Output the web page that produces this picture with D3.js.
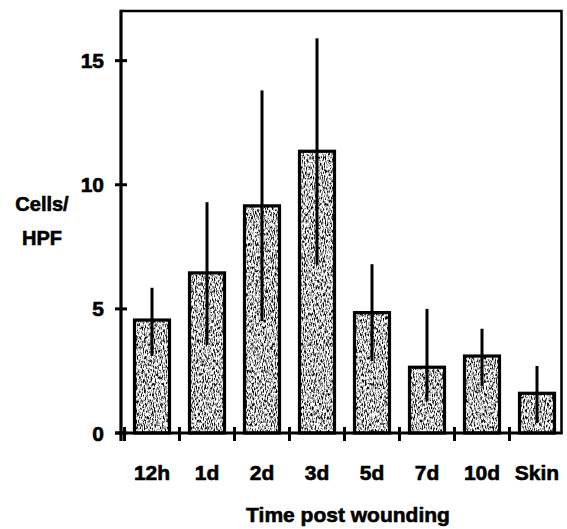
<!DOCTYPE html>
<html>
<head>
<meta charset="utf-8">
<script src="https://cdn.jsdelivr.net/npm/d3@7"></script>
<style>
	body { margin: 0; background: #fff; }
	text { font-family: "Liberation Sans", Arial, sans-serif; font-weight: bold; fill: #000; stroke: #000; stroke-width: 0.6px; }
</style>
</head>
<body>
<svg id="chart"></svg>
<script>
'use strict';

// values (cells per high power field)
var categories = ['12h', '1d', '2d', '3d', '5d', '7d', '10d', 'Skin'];
var means = [4.55, 6.45, 9.15, 11.35, 4.85, 2.65, 3.1, 1.6];
var errHigh = [5.85, 9.3, 13.8, 15.9, 6.8, 5.0, 4.2, 2.7];
var errLow = [3.1, 3.55, 4.5, 6.8, 2.9, 1.3, 1.9, 0.4];
var yTicks = [0, 5, 10, 15];

var WIDTH = 567,
	HEIGHT = 529;

var AXIS_LEFT = 121,
	FRAME_RIGHT = 561.5,
	FRAME_TOP = 11,
	AXIS_BOTTOM = 433;

var svg = d3.select('#chart')
	.attr('width', WIDTH)
	.attr('height', HEIGHT);

// grainy stipple used for the bar fill
var defs = svg.append('defs');
var grain = defs.append('filter')
	.attr('id', 'grain')
	.attr('x', 0).attr('y', 0)
	.attr('width', 1).attr('height', 1);

grain.append('feTurbulence')
	.attr('type', 'fractalNoise')
	.attr('baseFrequency', '0.9 0.3')
	.attr('numOctaves', 3)
	.attr('seed', 7)
	.attr('result', 'noise');

grain.append('feColorMatrix')
	.attr('in', 'noise')
	.attr('type', 'matrix')
	.attr('values', '0 0 0 0 0  0 0 0 0 0  0 0 0 0 0  -3.4 0 0 0 1.95')
	.attr('result', 'alpha');

grain.append('feComposite')
	.attr('in', 'SourceGraphic')
	.attr('in2', 'alpha')
	.attr('operator', 'in');

var x = d3.scaleBand()
	.domain(categories)
	.range([124.5, 564.5])
	.paddingInner(20 / 55)
	.paddingOuter(10 / 55);

var y = d3.scaleLinear()
	.domain([0, 17])
	.range([AXIS_BOTTOM, FRAME_TOP]);

var gap = x.step() - x.bandwidth();

// bars
var bars = svg.selectAll('.bar')
	.data(categories)
	.enter()
	.append('g')
	.classed('bar', true);

bars.append('rect')
	.attr('x', function (d) { return x(d); })
	.attr('y', function (d, i) { return y(means[i]); })
	.attr('width', x.bandwidth())
	.attr('height', function (d, i) { return y(0) - y(means[i]); })
	.style('fill', '#000')
	.attr('filter', 'url(#grain)');

bars.append('rect')
	.attr('x', function (d) { return x(d); })
	.attr('y', function (d, i) { return y(means[i]); })
	.attr('width', x.bandwidth())
	.attr('height', function (d, i) { return y(0) - y(means[i]); })
	.style('fill', 'none')
	.style('stroke', '#000')
	.style('stroke-width', 3.2);

// error bars
bars.append('line')
	.attr('x1', function (d) { return x(d) + x.bandwidth() / 2; })
	.attr('x2', function (d) { return x(d) + x.bandwidth() / 2; })
	.attr('y1', function (d, i) { return y(errLow[i]); })
	.attr('y2', function (d, i) { return y(errHigh[i]); })
	.style('stroke', '#000')
	.style('stroke-width', 3);

// frame: top and right
svg.append('path')
	.attr('d', 'M' + AXIS_LEFT + ',' + FRAME_TOP + 'H' + FRAME_RIGHT + 'V' + AXIS_BOTTOM)
	.style('fill', 'none')
	.style('stroke', '#000')
	.style('stroke-width', 2.5);

// y axis
svg.append('line')
	.attr('x1', AXIS_LEFT).attr('x2', AXIS_LEFT)
	.attr('y1', FRAME_TOP - 1.2).attr('y2', AXIS_BOTTOM + 8)
	.style('stroke', '#000')
	.style('stroke-width', 3.2);

svg.selectAll('.y-tick')
	.data(yTicks)
	.enter()
	.append('line')
	.classed('y-tick', true)
	.attr('x1', AXIS_LEFT - 6)
	.attr('x2', AXIS_LEFT + 6)
	.attr('y1', function (d) { return y(d); })
	.attr('y2', function (d) { return y(d); })
	.style('stroke', '#000')
	.style('stroke-width', 3);

svg.selectAll('.y-label')
	.data(yTicks)
	.enter()
	.append('text')
	.classed('y-label', true)
	.attr('x', 104)
	.attr('y', function (d) { return y(d); })
	.attr('dy', '0.36em')
	.style('text-anchor', 'end')
	.style('font-size', '21px')
	.text(function (d) { return d; });

// x axis
svg.append('line')
	.attr('x1', AXIS_LEFT - 6).attr('x2', FRAME_RIGHT + 1.2)
	.attr('y1', AXIS_BOTTOM).attr('y2', AXIS_BOTTOM)
	.style('stroke', '#000')
	.style('stroke-width', 3.2);

svg.selectAll('.x-tick')
	.data(categories)
	.enter()
	.append('line')
	.classed('x-tick', true)
	.attr('x1', function (d) { return x(d) - gap / 2; })
	.attr('x2', function (d) { return x(d) - gap / 2; })
	.attr('y1', AXIS_BOTTOM - 6)
	.attr('y2', AXIS_BOTTOM + 8)
	.style('stroke', '#000')
	.style('stroke-width', 3);

svg.selectAll('.x-label')
	.data(categories)
	.enter()
	.append('text')
	.classed('x-label', true)
	.attr('x', function (d) { return x(d) + x.bandwidth() / 2; })
	.attr('y', 480)
	.style('text-anchor', 'middle')
	.style('font-size', '21px')
	.text(function (d) { return d; });

// axis titles
svg.append('text')
	.attr('x', 42)
	.attr('y', 211)
	.style('text-anchor', 'middle')
	.style('font-size', '20px')
	.text('Cells/');

svg.append('text')
	.attr('x', 42)
	.attr('y', 245)
	.style('text-anchor', 'middle')
	.style('font-size', '20px')
	.text('HPF');

svg.append('text')
	.attr('x', 348)
	.attr('y', 522)
	.style('text-anchor', 'middle')
	.style('font-size', '21px')
	.text('Time post wounding');
</script>
</body>
</html>
